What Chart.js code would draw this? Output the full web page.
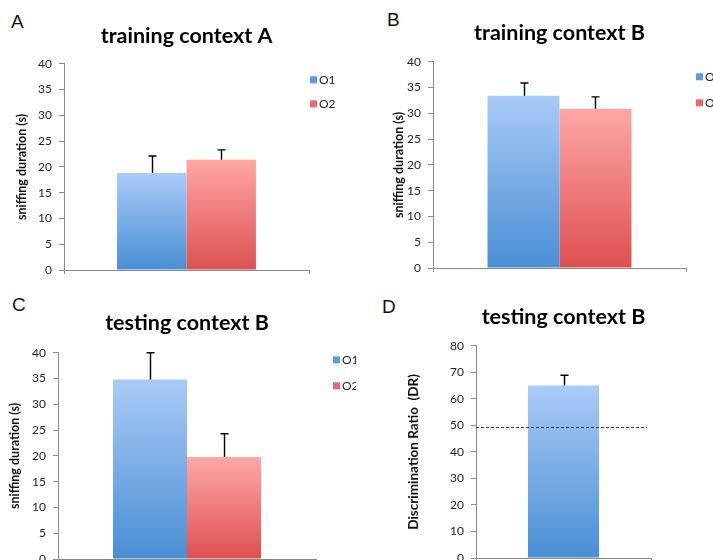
<!DOCTYPE html>
<html>
<head>
<meta charset="utf-8">
<script src="https://cdn.jsdelivr.net/npm/chart.js@4.4.1/dist/chart.umd.min.js"></script>
<style>
  html, body { margin: 0; padding: 0; background: #fff; }
  body { width: 713px; height: 560px; position: relative; overflow: hidden; }
  canvas { position: absolute; }
  .tag { position: absolute; font: 19px "Liberation Sans", Arial, sans-serif; line-height: 1; color: #111; }
</style>
</head>
<body>
<div class="tag" style="left:11px;top:12px">A</div>
<div class="tag" style="left:387px;top:10px">B</div>
<div class="tag" style="left:12px;top:295px">C</div>
<div class="tag" style="left:382px;top:297px">D</div>
<canvas id="chartA" width="356" height="280" style="left:0;top:0;width:356px;height:280px"></canvas>
<canvas id="chartB" width="380" height="280" style="left:356px;top:0;width:380px;height:280px"></canvas>
<canvas id="chartC" width="356" height="300" style="left:0;top:280px;width:356px;height:300px"></canvas>
<canvas id="chartD" width="357" height="300" style="left:356px;top:280px;width:357px;height:300px"></canvas>
<script>
// values (means, one-sided SEM bars)
const seriesNames = ['O1', 'O2'];
const groupLabels = [''];
const trainingA = [18.8, 21.4];
const trainingAErr = [3.3, 1.9];
const trainingB = [33.4, 30.9];
const trainingBErr = [2.5, 2.3];
const testingB = [34.8, 19.8];
const testingBErr = [5.2, 4.5];
const ratioLabels = ['DR'];
const ratioValues = [65.0];
const ratioErr = [3.9];
const chanceLevel = 49.5;
const sniffMax = 40, sniffStep = 5;
const ratioMax = 80, ratioStep = 10;

const axisGray = '#8a8a8a';
const blueShade = ['#a9cbf7', '#4a8ed4'];
const redShade = ['#ffa7a7', '#de5050'];

// vertical gradient per bar, light at the bar top
function barShade(stops) {
  return (ctx) => {
    const chart = ctx.chart;
    const area = chart.chartArea;
    if (!area || !ctx.parsed) return stops[1];
    const top = chart.scales.y.getPixelForValue(ctx.parsed.y);
    const g = chart.ctx.createLinearGradient(0, top, 0, area.bottom);
    g.addColorStop(0, stops[0]);
    g.addColorStop(1, stops[1]);
    return g;
  };
}

const errorBars = {
  id: 'errorBars',
  afterDatasetsDraw(chart) {
    const { ctx, scales: { y } } = chart;
    ctx.save();
    ctx.strokeStyle = '#000';
    ctx.lineWidth = 1.4;
    chart.data.datasets.forEach((ds, i) => {
      if (!ds.errors) return;
      chart.getDatasetMeta(i).data.forEach((bar, j) => {
        const x = Math.round(bar.x) + 0.5;
        const top = y.getPixelForValue(ds.data[j] + ds.errors[j]);
        ctx.beginPath();
        ctx.moveTo(x, bar.y);
        ctx.lineTo(x, top);
        ctx.moveTo(x - 4, top);
        ctx.lineTo(x + 4, top);
        ctx.stroke();
      });
    });
    ctx.restore();
  }
};

const sideKey = {
  id: 'sideKey',
  afterDraw(chart, args, opts) {
    const { ctx, chartArea } = chart;
    ctx.save();
    ctx.font = '12px Lato';
    ctx.textBaseline = 'middle';
    chart.data.datasets.forEach((ds, i) => {
      const x = chartArea.right + opts.dx;
      const y = chartArea.top + opts.dy + i * opts.gap;
      ctx.fillStyle = ds.swatch;
      ctx.fillRect(x, y - 3.5, 7, 7);
      ctx.fillStyle = '#222';
      ctx.fillText(ds.label, x + 9, y);
    });
    ctx.restore();
  }
};

const chanceLine = {
  id: 'chanceLine',
  afterDatasetsDraw(chart, args, opts) {
    const { ctx, chartArea, scales: { y } } = chart;
    const py = Math.round(y.getPixelForValue(opts.value)) + 0.5;
    ctx.save();
    ctx.strokeStyle = '#333';
    ctx.lineWidth = 1;
    ctx.setLineDash([3, 2]);
    ctx.beginPath();
    ctx.moveTo(chartArea.left, py);
    ctx.lineTo(chartArea.right - 4, py);
    ctx.stroke();
    ctx.restore();
  }
};

function pairSets(values, errs) {
  return [
    { label: seriesNames[0], data: [values[0]], errors: [errs[0]], backgroundColor: barShade(blueShade), swatch: '#5b9be0' },
    { label: seriesNames[1], data: [values[1]], errors: [errs[1]], backgroundColor: barShade(redShade), swatch: '#e86a6a' }
  ];
}

function panel(id, o) {
  return new Chart(document.getElementById(id), {
    type: 'bar',
    data: { labels: o.labels, datasets: o.datasets },
    options: {
      responsive: false,
      animation: false,
      devicePixelRatio: 1,
      layout: { padding: o.pad },
      datasets: { bar: { barPercentage: 1, categoryPercentage: o.catPct } },
      plugins: {
        legend: { display: false },
        tooltip: { enabled: false },
        title: {
          display: true,
          text: o.title,
          fullSize: false,
          color: '#000',
          font: { family: 'Lato', size: 21.5, weight: 'bold', lineHeight: 1.2 },
          padding: { top: 0, bottom: o.titleGap }
        },
        sideKey: o.key,
        chanceLine: o.chance
      },
      scales: {
        x: {
          grid: { display: true, drawOnChartArea: false, drawTicks: true, tickLength: 4, color: axisGray, offset: true },
          border: { color: axisGray },
          ticks: { display: false },
          afterFit: (s) => { s.height = 8; }
        },
        y: {
          min: 0,
          max: o.max,
          ticks: { stepSize: o.step, color: '#222', padding: 7, font: { family: 'Lato', size: 12 } },
          grid: { drawOnChartArea: false, drawTicks: true, tickLength: 5, color: axisGray },
          border: { color: axisGray },
          title: {
            display: true,
            text: o.yTitle,
            color: '#111',
            font: { family: 'Lato', size: o.yTitleSize, weight: 'bold', lineHeight: 1.2 },
            padding: { top: o.yTitlePad, bottom: 0 }
          },
          afterFit: (s) => {
            s.width = o.axisLeft;
            s.paddingTop = 0;
            s.paddingBottom = 0;
          }
        }
      }
    },
    plugins: [errorBars, sideKey, chanceLine]
  });
}

panel('chartA', {
  labels: groupLabels, datasets: pairSets(trainingA, trainingAErr),
  title: 'training context A', yTitle: 'sniffing duration (s)', yTitleSize: 12.5,
  max: sniffMax, step: sniffStep, catPct: 0.567,
  pad: { left: 0, top: 23, right: 47, bottom: 2 }, titleGap: 15,
  axisLeft: 64, yTitlePad: 14,
  key: { dx: 1, dy: 16, gap: 24 }, chance: false
});

panel('chartB', {
  labels: groupLabels, datasets: pairSets(trainingB, trainingBErr),
  title: 'training context B', yTitle: 'sniffing duration (s)', yTitleSize: 12.5,
  max: sniffMax, step: sniffStep, catPct: 0.569,
  pad: { left: 0, top: 20, right: 50, bottom: 4 }, titleGap: 16,
  axisLeft: 77, yTitlePad: 35,
  key: { dx: 10, dy: 15, gap: 26 }, chance: false
});

panel('chartC', {
  labels: groupLabels, datasets: pairSets(testingB, testingBErr),
  title: 'testing context B', yTitle: 'sniffing duration (s)', yTitleSize: 12.5,
  max: sniffMax, step: sniffStep, catPct: 0.574,
  pad: { left: 0, top: 30, right: 40, bottom: 13 }, titleGap: 17,
  axisLeft: 58, yTitlePad: 7,
  key: { dx: 17, dy: 7, gap: 26 }, chance: false
});

panel('chartD', {
  labels: ratioLabels,
  datasets: [{ label: 'DR', data: ratioValues, errors: ratioErr, backgroundColor: barShade(blueShade), swatch: '#5b9be0' }],
  title: 'testing context B', yTitle: 'Discrimination Ratio  (DR)', yTitleSize: 13.5,
  max: ratioMax, step: ratioStep, catPct: 0.406,
  pad: { left: 0, top: 24, right: 62, bottom: 14 }, titleGap: 16,
  axisLeft: 120, yTitlePad: 50,
  key: false, chance: { value: chanceLevel }
});
</script>
</body>
</html>
